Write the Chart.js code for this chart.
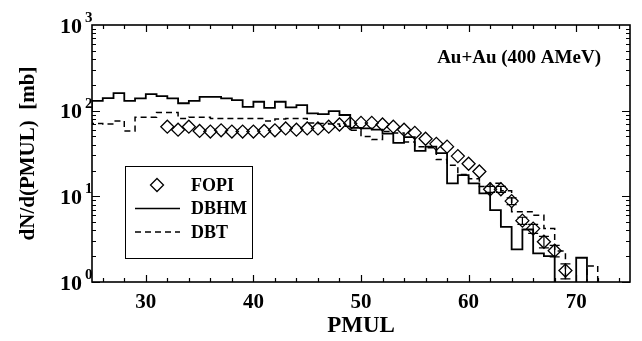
<!DOCTYPE html>
<html>
<head>
<meta charset="utf-8">
<script src="https://cdn.jsdelivr.net/npm/chart.js@4.4.1/dist/chart.umd.min.js"></script>
<style>
  html, body { margin: 0; padding: 0; background: #fff; }
</style>
</head>
<body>
<canvas id="pmulChart" width="642" height="341"></canvas>
<script>
// PMUL bins start at 25, one unit wide; 0 means the bin is below the axis
const binStart = 25;
const dbhm = [100, 130, 140, 160, 130, 139, 156, 148, 139, 122,
              130, 145, 145, 139, 133, 111, 127, 108, 127, 109,
              116, 93, 91, 99, 89, 63, 62, 60, 54, 42,
              49, 34, 38, 32, 14.2, 17.7, 14.2, 10.8, 6.9, 4.4,
              2.4, 4.1, 2.16, 2.0, 0, 0, 1.92];
const dbt = [79, 71, 70, 76, 58, 84, 84, 95, 95, 81,
             84, 84, 81, 81, 81, 81, 81, 76, 80, 81,
             81, 72, 71, 70, 66, 59, 50, 46, 57, 55,
             43, 38, 37, 27, 23, 18, 16, 13, 14.2, 11.6,
             6.6, 6.6, 6.0, 4.2, 2.3, 0, 0, 1.54];

// FOPI measurement
const fopiX = [32, 33, 34, 35, 36, 37, 38, 39, 40, 41,
               42, 43, 44, 45, 46, 47, 48, 49, 50, 51,
               52, 53, 54, 55, 56, 57, 58, 59, 60, 61,
               62, 63, 64, 65, 66, 67, 68, 69];
const fopiY = [65, 60, 65, 58, 57, 59, 57, 57, 57, 58,
               59, 62, 60, 62, 62, 65, 69, 71, 72, 72,
               69, 65, 60, 55, 47, 41, 38, 29.5, 24, 19.5,
               12.1, 12.1, 8.8, 5.2, 4.2, 2.95, 2.32, 1.36];
const fopiErr = [0, 0, 0, 0, 0, 0, 0, 0, 0, 0,
                 0, 0, 0, 0, 0, 0, 0, 0, 0, 0,
                 0, 0, 0, 0, 0, 0, 0, 0, 0, 0,
                 1.0, 1.0, 0.8, 0.5, 0.5, 0.45, 0.36, 0.27];

const xTicks = [30, 40, 50, 60, 70];
const yTicks = [1, 10, 100, 1000];
const yExponents = ['0', '1', '2', '3'];
const seriesNames = ['FOPI', 'DBHM', 'DBT'];
const systemLabel = 'Au+Au (400 AMeV)';

const SERIF = '"Liberation Serif", "Times New Roman", serif';
// log axis drops zeros, so empty bins get a value far under the frame (clipped)
const EMPTY_BIN = 0.01;

function histPoints(values) {
  const pts = values.map((v, i) => ({ x: binStart + i, y: v > 0 ? v : EMPTY_BIN }));
  pts.push({ x: binStart + values.length, y: EMPTY_BIN });
  return pts;
}

function diamond(ctx, x, y, r) {
  ctx.beginPath();
  ctx.moveTo(x, y - r);
  ctx.lineTo(x + r, y);
  ctx.lineTo(x, y + r);
  ctx.lineTo(x - r, y);
  ctx.closePath();
  ctx.stroke();
}

// frame, inward ticks, decade labels, error bars, legend box, label
const decorations = {
  id: 'decorations',
  afterDatasetsDraw(chart) {
    const ctx = chart.ctx;
    const a = chart.chartArea;
    const xs = chart.scales.x;
    const ys = chart.scales.y;
    ctx.save();
    ctx.strokeStyle = '#000';
    ctx.fillStyle = '#000';

    // error bars
    ctx.lineWidth = 1.2;
    fopiX.forEach((xv, i) => {
      const e = fopiErr[i];
      if (!e) return;
      const px = xs.getPixelForValue(xv);
      const top = ys.getPixelForValue(fopiY[i] + e);
      const bot = ys.getPixelForValue(fopiY[i] - e);
      ctx.beginPath();
      ctx.moveTo(px, top); ctx.lineTo(px, bot);
      ctx.moveTo(px - 5, top); ctx.lineTo(px + 5, top);
      ctx.moveTo(px - 5, bot); ctx.lineTo(px + 5, bot);
      ctx.stroke();
    });

    // frame
    ctx.lineWidth = 1.6;
    ctx.strokeRect(a.left, a.top, a.right - a.left, a.bottom - a.top);

    // x ticks every 2, long ones at the labelled values
    ctx.lineWidth = 1.2;
    ctx.beginPath();
    for (let v = 26; v < 75; v += 2) {
      const px = Math.round(xs.getPixelForValue(v)) + 0.5;
      const len = xTicks.includes(v) ? 7 : 4;
      ctx.moveTo(px, a.bottom); ctx.lineTo(px, a.bottom - len);
      ctx.moveTo(px, a.top); ctx.lineTo(px, a.top + len);
    }
    // y ticks on both sides
    for (let d = 1; d < 1000; d *= 10) {
      for (let m = 1; m <= 9; m++) {
        const py = Math.round(ys.getPixelForValue(m * d)) + 0.5;
        const len = m === 1 ? 8 : 4;
        ctx.moveTo(a.left, py); ctx.lineTo(a.left + len, py);
        ctx.moveTo(a.right, py); ctx.lineTo(a.right - len, py);
      }
    }
    ctx.stroke();

    // decade labels 10^n
    yTicks.forEach((v, i) => {
      const py = ys.getPixelForValue(v);
      ctx.font = 'bold 22px ' + SERIF;
      ctx.textAlign = 'right';
      ctx.textBaseline = 'middle';
      ctx.fillText('10', 82, py + 2);
      ctx.font = 'bold 15px ' + SERIF;
      ctx.textAlign = 'left';
      ctx.fillText(yExponents[i], 85, py - 7);
    });

    // legend box
    ctx.lineWidth = 1;
    ctx.strokeRect(125.5, 166.5, 127, 92);
    const rows = [185, 208.5, 232];
    ctx.lineWidth = 1.3;
    diamond(ctx, 157, rows[0], 6.5);
    ctx.lineWidth = 1.6;
    ctx.beginPath();
    ctx.moveTo(135, rows[1]); ctx.lineTo(180, rows[1]);
    ctx.stroke();
    ctx.setLineDash([6, 4]);
    ctx.beginPath();
    ctx.moveTo(135, rows[2]); ctx.lineTo(180, rows[2]);
    ctx.stroke();
    ctx.setLineDash([]);
    ctx.font = 'bold 18px ' + SERIF;
    ctx.textAlign = 'left';
    ctx.textBaseline = 'middle';
    seriesNames.forEach((n, i) => ctx.fillText(n, 191, rows[i] + 1));

    // collision system
    ctx.font = 'bold 19px ' + SERIF;
    ctx.textAlign = 'right';
    ctx.fillText(systemLabel, 601, 58);
    ctx.restore();
  }
};

const ctx = document.getElementById('pmulChart').getContext('2d');

new Chart(ctx, {
  type: 'line',
  data: {
    datasets: [{
      label: seriesNames[0],
      type: 'scatter',
      data: fopiX.map((x, i) => ({ x: x, y: fopiY[i] })),
      pointStyle: 'rectRot',
      pointRadius: 6.5,
      pointBorderWidth: 1.3,
      borderColor: '#000',
      backgroundColor: 'rgba(0,0,0,0)',
      showLine: false
    }, {
      label: seriesNames[1],
      data: histPoints(dbhm),
      stepped: 'after',
      borderColor: '#000',
      borderWidth: 1.8,
      pointRadius: 0,
      fill: false
    }, {
      label: seriesNames[2],
      data: histPoints(dbt),
      stepped: 'after',
      borderColor: '#000',
      borderWidth: 1.5,
      borderDash: [6, 4],
      pointRadius: 0,
      fill: false
    }]
  },
  options: {
    responsive: false,
    animation: false,
    layout: { padding: { top: 25, right: 12, left: 0, bottom: 0 } },
    plugins: {
      legend: { display: false },
      tooltip: { enabled: false }
    },
    scales: {
      x: {
        type: 'linear',
        min: 25,
        max: 75,
        afterBuildTicks: s => { s.ticks = xTicks.map(v => ({ value: v })); },
        afterFit: s => { s.height = 59; },
        grid: { display: false, drawTicks: false },
        border: { display: false },
        ticks: {
          color: '#000',
          padding: 8,
          maxRotation: 0,
          font: { family: SERIF, size: 21, weight: 'bold' }
        },
        title: {
          display: true,
          text: 'PMUL',
          color: '#000',
          padding: { top: 0, bottom: 1 },
          font: { family: SERIF, size: 23, weight: 'bold' }
        }
      },
      y: {
        type: 'logarithmic',
        min: 1,
        max: 1000,
        afterFit: s => { s.width = 92; },
        grid: { display: false, drawTicks: false },
        border: { display: false },
        ticks: { display: false },
        title: {
          display: true,
          text: 'dN/d(PMUL)  [mb]',
          color: '#000',
          padding: { top: 16, bottom: 0 },
          font: { family: SERIF, size: 21, weight: 'bold' }
        }
      }
    }
  },
  plugins: [decorations]
});
</script>
</body>
</html>
